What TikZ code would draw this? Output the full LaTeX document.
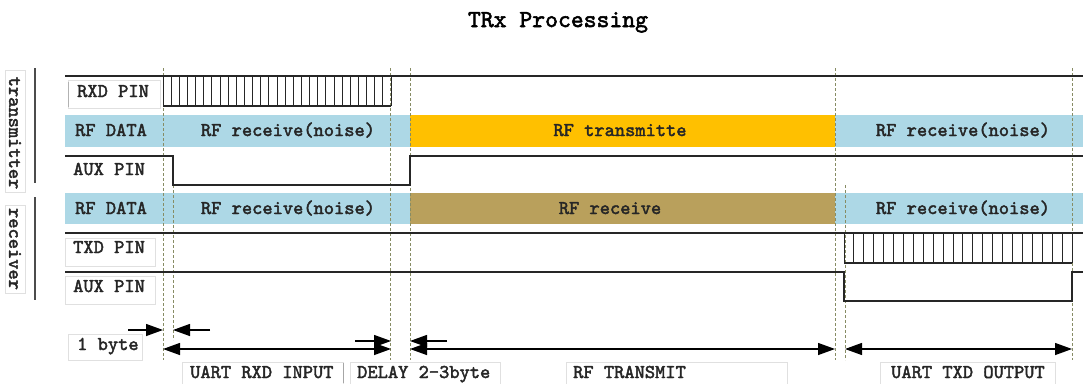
\documentclass[tikz,border=0pt]{standalone}
\usepackage{fontspec}
\newfontfamily\cbold{lmmono10-regular.otf}[FakeBold=2.2]
\usetikzlibrary{arrows.meta}
\definecolor{rfblue}{RGB}{173,216,230}
\definecolor{rforange}{RGB}{255,192,0}
\definecolor{rfbrown}{RGB}{185,160,92}
\definecolor{guide}{RGB}{135,140,100}
\begin{document}
\begin{tikzpicture}[x=1pt,y=-1pt,
  sig/.style={line width=1.3pt, black!85},
  pulse/.style={line width=1pt, black!85},
  guideline/.style={guide, line width=0.8pt, dash pattern=on 3pt off 2pt},
  txt/.style={font=\cbold\fontsize{19.5}{22}\selectfont, inner sep=0pt, text=black!85},
  lbl/.style={txt, anchor=base west},
  bandtxt/.style={txt, anchor=base},
  titletxt/.style={font=\cbold\fontsize{24.5}{27}\selectfont, inner sep=0pt, anchor=base},
  sidetxt/.style={txt, rotate=-90, anchor=center},
  faint/.style={draw=black!12, line width=0.7pt},
  sep/.style={line width=1.3pt, black!70},
  arr/.style={line width=1.3pt, black, -{Triangle[length=17pt,width=12pt]}},
  darr/.style={line width=1.3pt, black, {Triangle[length=17pt,width=12pt]}-{Triangle[length=17pt,width=12pt]}}
]
\useasboundingbox (0,0) rectangle (1086,383);

% title
\node[titletxt] (title) at (558,27) {TRx Processing};

% faint label boxes
\draw[faint] (5,70) rectangle (25,192);
\draw[faint] (5,205) rectangle (25,293);
\draw[faint] (68,80) rectangle (160,108);
\draw[faint] (65,238) rectangle (155,266);
\draw[faint] (65,276) rectangle (155,304);
\draw[faint] (68,334) rectangle (142,360);
\draw[faint] (182,362) rectangle (343,385);
\draw[faint] (350,362) rectangle (500,385);
\draw[faint] (566,362) rectangle (787,385);
\draw[faint] (880,362) rectangle (1055,385);
\draw[line width=0.8pt, black!35] (343,363) -- (343,383);
\draw[line width=0.8pt, black!30] (68,82) -- (68,107);

% side labels
\node[sidetxt] (tx) at (15,133) {transmitter};
\node[sidetxt] (rx) at (15,249) {receiver};
\draw[sep] (35,68) -- (35,183);
\draw[sep] (35,197) -- (35,300);

% bands
\fill[rfblue] (65,115) rectangle (410,147);
\fill[rforange] (410,115) rectangle (835,147);
\fill[rfblue] (835,115) rectangle (1083,147);
\fill[rfblue] (65,193) rectangle (410,224);
\fill[rfbrown] (410,193) rectangle (835,224);
\fill[rfblue] (835,193) rectangle (1083,224);

% guide lines
\draw[guideline] (163,68) -- (163,360);
\draw[guideline] (173,155) -- (173,340);
\draw[guideline] (390,68) -- (390,360);
\draw[guideline] (410,68) -- (410,360);
\draw[guideline] (835,68) -- (835,360);
\draw[guideline] (845,185) -- (845,360);
\draw[guideline] (1072,68) -- (1072,360);

% signals
\draw[sig] (65,76) -- (1083,76);
\foreach \i in {0,...,28} \draw[pulse] ({163+\i*228/28},76) -- ++(0,30);
\draw[sig] (163,106) -- (391,106);
\draw[sig] (65,156) -- (173,156) -- (173,185) -- (410,185) -- (410,156) -- (1083,156);
\draw[sig] (65,233) -- (1083,233);
\foreach \i in {0,...,23} \draw[pulse] ({844+\i*228/23},233) -- ++(0,30);
\draw[sig] (844,263) -- (1072,263);
\draw[sig] (65,272) -- (844,272) -- (844,301) -- (1072,301) -- (1072,272) -- (1083,272);

% row labels
\node[lbl] (rxd) at (77,97) {RXD PIN};
\node[lbl] (rfd1) at (75,136) {RF DATA};
\node[lbl] (aux1) at (73,175) {AUX PIN};
\node[lbl] (rfd2) at (75,214) {RF DATA};
\node[lbl] (txd) at (73,253) {TXD PIN};
\node[lbl] (aux2) at (73,292) {AUX PIN};

\node[bandtxt] (b1) at (288,136) {RF receive(noise)};
\node[bandtxt] (b2) at (620,136) {RF transmitte};
\node[bandtxt] (b3) at (963,136) {RF receive(noise)};
\node[bandtxt] (b4) at (288,214) {RF receive(noise)};
\node[bandtxt] (b5) at (610,214) {RF receive};
\node[bandtxt] (b6) at (963,214) {RF receive(noise)};

% arrow end points
\coordinate (a1s) at (128,330); \coordinate (a1e) at (163,330);
\coordinate (a2s) at (210,330); \coordinate (a2e) at (173,330);
\coordinate (a3s) at (163,349); \coordinate (a3e) at (391,349);
\coordinate (a4s) at (355,341); \coordinate (a4e) at (391,341);
\coordinate (a5s) at (447,341); \coordinate (a5e) at (410,341);
\coordinate (a6s) at (410,349); \coordinate (a6e) at (835,349);
\coordinate (a7s) at (845,349); \coordinate (a7e) at (1072,349);

\draw[arr] (a1s) -- (a1e);
\draw[arr] (a2s) -- (a2e);
\draw[darr] (a3s) -- (a3e);
\draw[arr] (a4s) -- (a4e);
\draw[arr] (a5s) -- (a5e);
\draw[darr] (a6s) -- (a6e);
\draw[darr] (a7s) -- (a7e);

% bottom labels
\node[lbl] (onebyte) at (77,350) {1 byte};
\node[lbl] (uartrx) at (190,378) {UART RXD INPUT};
\node[lbl] (delay) at (357,378) {DELAY 2-3byte};
\node[lbl] (rftx) at (573,378) {RF TRANSMIT};
\node[lbl] (uarttx) at (891,378) {UART TXD OUTPUT};
\end{tikzpicture}
\end{document}
